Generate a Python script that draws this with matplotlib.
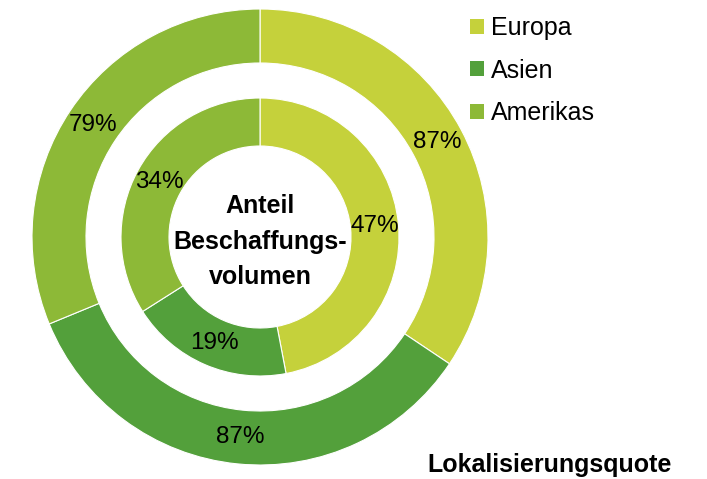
import matplotlib.pyplot as plt
from matplotlib.patches import Patch

plt.rcParams["font.family"] = ["Liberation Sans", "DejaVu Sans"]

regions = ["Europa", "Asien", "Amerikas"]
colors = ["#C5D13B", "#53A03B", "#8DB937"]

# outer ring: Lokalisierungsquote (slice sizes follow the quotes)
quote = [87, 87, 79]
# inner ring: Anteil Beschaffungsvolumen
anteil = [47, 19, 34]

fig = plt.figure(figsize=(7.07, 4.79), dpi=100)
W, H = 707, 479
cx, cy, R = 260, 237, 228
ax = fig.add_axes([(cx - R) / W, (H - cy - R) / H, 2 * R / W, 2 * R / H])

r_out, w_out = 1.0, (228 - 174) / 228
r_in, w_in = 139 / 228, (139 - 91) / 228

ax.pie(quote, radius=r_out, colors=colors, startangle=90, counterclock=False,
       labels=[f"{v}%" for v in quote], labeldistance=1 - w_out / 2,
       textprops=dict(fontsize=17.5, ha="center", va="center"),
       wedgeprops=dict(width=w_out, edgecolor="white", linewidth=0.8))
ax.pie(anteil, radius=r_in, colors=colors, startangle=90, counterclock=False,
       labels=[f"{v}%" for v in anteil], labeldistance=1 - (w_in / r_in) / 2,
       textprops=dict(fontsize=17.5, ha="center", va="center"),
       wedgeprops=dict(width=w_in, edgecolor="white", linewidth=0.8))
ax.set_xlim(-1, 1)
ax.set_ylim(-1, 1)
ax.set_aspect("equal")
ax.axis("off")

ax.text(0, -0.02, "Anteil\nBeschaffungs-\nvolumen", ha="center", va="center",
        fontsize=18, fontweight="bold", linespacing=1.62)

handles = [Patch(facecolor=c, edgecolor="none") for c in colors]
fig.legend(handles, regions, loc="upper left", bbox_to_anchor=(460 / W, 1 - 6 / H),
           frameon=False, fontsize=18, handlelength=0.55, handleheight=0.55,
           handletextpad=0.3, labelspacing=0.75, borderaxespad=0)

fig.text(550 / W, 1 - 465 / H, "Lokalisierungsquote", ha="center", va="center",
         fontsize=18, fontweight="bold")

fig.savefig("out.png", dpi=100)
